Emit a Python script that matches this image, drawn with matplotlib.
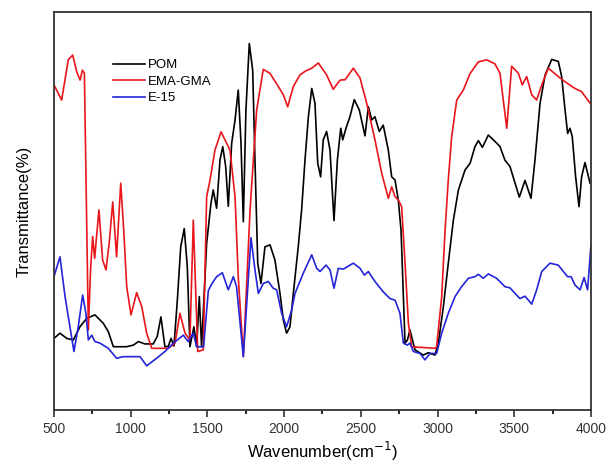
import matplotlib
matplotlib.use("Agg")
import matplotlib.pyplot as plt
from matplotlib.ticker import MultipleLocator

plt.rcParams['font.family'] = ['Liberation Sans', 'DejaVu Sans']

# POM spectrum (wavenumber, transmittance in arbitrary units)
pom_wn = [500, 539, 583, 626, 669, 713, 767, 821, 854, 887, 973, 1017, 1050, 1093, 1147, 1173,
          1197, 1223, 1245, 1263, 1282, 1304, 1326, 1349, 1369, 1386, 1412, 1430, 1447, 1462,
          1495, 1523, 1538, 1560, 1582, 1600, 1619, 1636, 1658, 1680, 1701, 1719, 1734, 1751,
          1773, 1795, 1810, 1828, 1849, 1875, 1908, 1940, 1973, 1995, 2016, 2038, 2060, 2092,
          2114, 2136, 2158, 2180, 2201, 2219, 2238, 2255, 2277, 2299, 2325, 2347, 2369, 2382,
          2403, 2429, 2457, 2490, 2527, 2549, 2571, 2592, 2620, 2646, 2679, 2701, 2723, 2744,
          2762, 2777, 2788, 2803, 2820, 2853, 2907, 2940, 2983, 3005, 3038, 3070, 3103, 3136,
          3179, 3212, 3244, 3266, 3292, 3331, 3374, 3407, 3439, 3472, 3505, 3533, 3570, 3609,
          3635, 3668, 3701, 3744, 3787, 3809, 3831, 3848, 3863, 3878, 3900, 3922, 3939, 3961, 3994]
pom_t = [18.0, 19.3, 18.0, 17.6, 20.9, 23.0, 23.9, 21.8, 19.7, 15.9, 15.9, 16.3, 17.2, 16.6, 16.6, 18.5,
         23.4, 15.9, 16.0, 18.0, 16.1, 27.6, 41.0, 45.6, 36.0, 15.9, 20.9, 15.9, 28.5, 15.9,
         41.9, 51.9, 55.3, 50.7, 62.8, 66.2, 61.2, 51.2, 67.0, 72.9, 80.4, 67.0, 47.3, 75.4,
         92.1, 85.4, 62.8, 36.9, 31.8, 41.0, 41.5, 37.7, 29.3, 22.6, 19.3, 20.9, 29.3, 41.0,
         50.3, 62.8, 73.7, 80.8, 77.1, 62.0, 58.6, 67.9, 70.0, 65.3, 47.6, 62.8, 70.8, 67.9,
         70.8, 73.7, 78.0, 75.4, 68.9, 76.2, 72.9, 73.7, 70.0, 71.6, 65.3, 58.6, 57.8, 52.8,
         45.2, 28.5, 16.8, 17.5, 20.1, 15.1, 13.8, 14.4, 13.8, 16.8, 26.0, 36.9, 47.7, 55.3,
         60.3, 62.0, 66.2, 67.7, 66.0, 69.1, 67.5, 66.2, 62.8, 61.2, 57.0, 53.5, 57.7, 53.2,
         62.8, 77.1, 84.2, 88.1, 87.6, 83.8, 75.4, 69.5, 70.8, 68.7, 58.6, 51.1, 58.6, 62.2, 57.0]

# EMA-GMA spectrum
ema_wn = [500, 550, 593, 622, 648, 670, 685, 698, 724, 738, 752, 765, 793, 817, 839, 860, 883,
          908, 935, 955, 974, 1002, 1039, 1072, 1104, 1137, 1245, 1289, 1321, 1354, 1386, 1408,
          1437, 1473, 1495, 1517, 1549, 1589, 1626, 1647, 1680, 1701, 1734, 1778, 1821, 1864,
          1908, 1962, 1995, 2023, 2060, 2103, 2136, 2180, 2223, 2277, 2320, 2364, 2397, 2451,
          2495, 2538, 2592, 2636, 2679, 2701, 2723, 2744, 2766, 2788, 2810, 2831, 2983, 2994,
          3027, 3049, 3070, 3092, 3125, 3168, 3211, 3266, 3320, 3374, 3407, 3451, 3483, 3527,
          3552, 3581, 3614, 3646, 3683, 3722, 3787, 3831, 3896, 3939, 3994]
ema_t = [81.7, 77.9, 88.0, 89.2, 85.0, 82.9, 85.4, 84.7, 20.1, 35.0, 43.6, 38.1, 50.3, 37.7, 35.2, 42.0, 52.3,
         38.5, 57.0, 45.0, 31.0, 23.9, 29.5, 26.0, 19.3, 15.5, 15.5, 16.8, 24.3, 19.3, 17.6, 47.7,
         14.7, 15.1, 53.6, 57.8, 65.3, 69.9, 67.0, 65.3, 53.6, 33.5, 13.4, 50.3, 75.4, 85.6,
         84.6, 81.3, 79.2, 76.2, 81.3, 84.2, 85.1, 85.9, 87.2, 84.2, 80.6, 82.9, 83.0, 85.9,
         83.4, 77.1, 67.9, 59.5, 53.2, 56.1, 53.6, 52.8, 51.1, 36.9, 21.8, 15.9, 15.5, 15.9,
         28.5, 45.2, 57.8, 68.7, 77.9, 80.4, 84.5, 87.5, 88.0, 87.0, 84.6, 70.8, 86.4, 84.6,
         81.7, 83.8, 79.2, 77.9, 82.1, 85.9, 83.8, 82.5, 80.8, 80.0, 77.1]

# E-15 spectrum
e15_wn = [500, 539, 572, 630, 658, 687, 708, 724, 746, 767, 800, 854, 908, 952, 1061, 1104, 1169,
          1223, 1278, 1343, 1375, 1408, 1430, 1475, 1506, 1530, 1560, 1597, 1636, 1669, 1690,
          1734, 1784, 1810, 1832, 1864, 1897, 1929, 1951, 1984, 2016, 2049, 2071, 2125, 2180,
          2212, 2234, 2273, 2299, 2325, 2353, 2386, 2451, 2495, 2523, 2549, 2592, 2646, 2690,
          2723, 2755, 2777, 2803, 2820, 2842, 2886, 2918, 2951, 2994, 3027, 3070, 3114, 3157,
          3201, 3244, 3266, 3298, 3331, 3385, 3439, 3472, 3505, 3537, 3570, 3614, 3646, 3679,
          3733, 3787, 3820, 3848, 3870, 3896, 3929, 3955, 3978, 4000]
e15_t = [33.5, 38.5, 28.5, 14.7, 20.9, 28.9, 24.3, 17.6, 18.8, 17.2, 16.8, 15.5, 13.0, 13.4, 13.4, 11.1, 13.0,
         14.7, 16.8, 18.8, 17.2, 19.3, 15.9, 15.9, 30.0, 31.8, 33.5, 34.5, 30.2, 33.5, 31.0,
         13.4, 43.3, 35.2, 29.3, 31.8, 32.3, 30.6, 30.2, 24.3, 20.9, 25.1, 29.3, 34.4, 39.0,
         35.6, 34.8, 36.4, 35.2, 30.6, 35.6, 35.4, 36.9, 35.6, 33.9, 34.8, 32.3, 29.7, 28.0,
         27.6, 24.3, 16.8, 16.3, 16.8, 14.7, 14.2, 12.6, 14.2, 14.2, 19.3, 24.3, 28.5, 31.0,
         33.1, 33.5, 34.1, 33.1, 34.2, 33.1, 31.0, 30.7, 29.3, 28.0, 28.6, 26.6, 30.2, 34.8,
         36.9, 36.4, 34.8, 33.5, 33.5, 31.4, 30.2, 33.3, 30.2, 41.5]

fig = plt.figure(figsize=(6.08, 4.65), dpi=100)
ax = fig.add_axes([0.0888, 0.1183, 0.8832, 0.8557])

ax.plot(pom_wn, pom_t, color="black", lw=1.2, label="POM")
ax.plot(ema_wn, ema_t, color="#e8151b", lw=1.2, label="EMA-GMA")
ax.plot(e15_wn, e15_t, color="#2424d8", lw=1.2, label="E-15")

ax.set_xlim(500, 4000)
ax.set_ylim(0, 100)
ax.xaxis.set_major_locator(MultipleLocator(500))
ax.xaxis.set_minor_locator(MultipleLocator(250))
ax.set_yticks([])
ax.tick_params(axis="x", which="major", direction="out", length=5, width=1.2, labelsize=10, colors="#333333")
ax.tick_params(axis="x", which="minor", direction="out", length=3, width=1.2)
for sp in ax.spines.values():
    sp.set_linewidth(1.3)
    sp.set_color("#333333")

ax.set_xlabel("Wavenumber(cm$^{-1}$)", fontsize=12, labelpad=3)
ax.set_ylabel("Transmittance(%)", fontsize=12, labelpad=16)

ax.legend(loc="upper left", bbox_to_anchor=(0.11, 0.882), frameon=False, fontsize=9.5,
          handlelength=2.4, handletextpad=0.25, labelspacing=0.32, borderpad=0, borderaxespad=0)

fig.savefig("out.png", dpi=100)
